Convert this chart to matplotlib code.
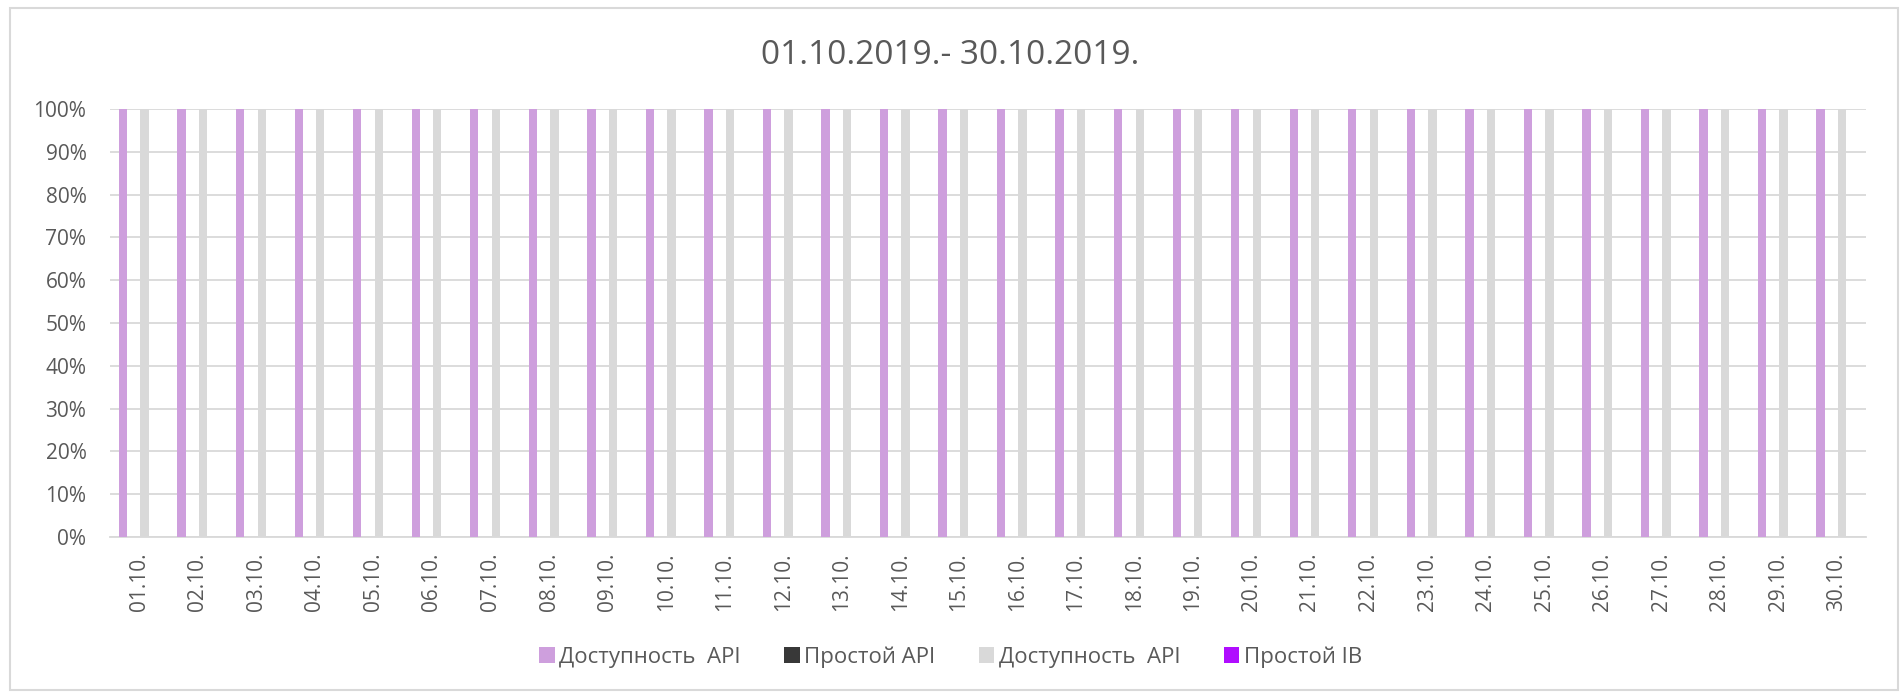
import numpy as np
import matplotlib.pyplot as plt
from matplotlib.patches import Rectangle

plt.rcParams['font.family'] = ['Open Sans', 'DejaVu Sans']

days = ["%02d.10." % d for d in range(1, 31)]
dostup_api = [100] * 30
prostoy_api = [0] * 30
dostup_api2 = [100] * 30
prostoy_ib = [0] * 30

series = [
    ("Доступность  API", dostup_api, "#CE9FDD"),
    ("Простой API", prostoy_api, "#383838"),
    ("Доступность  API", dostup_api2, "#D9D9D9"),
    ("Простой IB", prostoy_ib, "#B00DFF"),
]

fig = plt.figure(figsize=(19.01, 6.92), dpi=100)
ax = fig.add_axes([110 / 1901, 1 - 537 / 692, (1866 - 110) / 1901, (537 - 109) / 692])

x = np.arange(len(days))
slot = 0.184
for i, (name, vals, col) in enumerate(series):
    ax.bar(x + (i - 1.5) * slot, vals, width=0.142, color=col, label=name, zorder=3)

ax.set_xlim(-0.5, len(days) - 0.5)
ax.set_ylim(0, 100)
ax.set_yticks(range(0, 101, 10))
ax.set_yticklabels(["%d%%" % v for v in range(0, 101, 10)])
ax.set_xticks(x)
ax.set_xticklabels(days, rotation=90)
ax.tick_params(axis='both', length=0, labelsize=15, colors="#595959")
ax.tick_params(axis='x', pad=11)
ax.tick_params(axis='y', pad=17)
ax.grid(axis='y', color="#D9D9D9", linewidth=1.3, zorder=0)
for s in ["top", "right", "left"]:
    ax.spines[s].set_visible(False)
ax.spines["bottom"].set_color("#D9D9D9")
ax.spines["bottom"].set_linewidth(1.3)

fig.text(0.5, 1 - 55 / 692, "01.10.2019.- 30.10.2019.", ha="center", va="center",
         fontsize=24, color="#595959")

handles, labels = ax.get_legend_handles_labels()
fig.legend(handles, labels, loc="center", bbox_to_anchor=(0.5, 1 - 657 / 692), ncol=4,
           frameon=False, fontsize=16, labelcolor="#595959", handlelength=0.7,
           handleheight=0.7, handletextpad=0.2, columnspacing=1.95)

fig.patches.append(Rectangle((10 / 1901, 2 / 692), 1888 / 1901, 682 / 692,
                             transform=fig.transFigure, fill=False,
                             edgecolor="#D9D9D9", linewidth=1.5))

fig.savefig("out.png", dpi=100)
